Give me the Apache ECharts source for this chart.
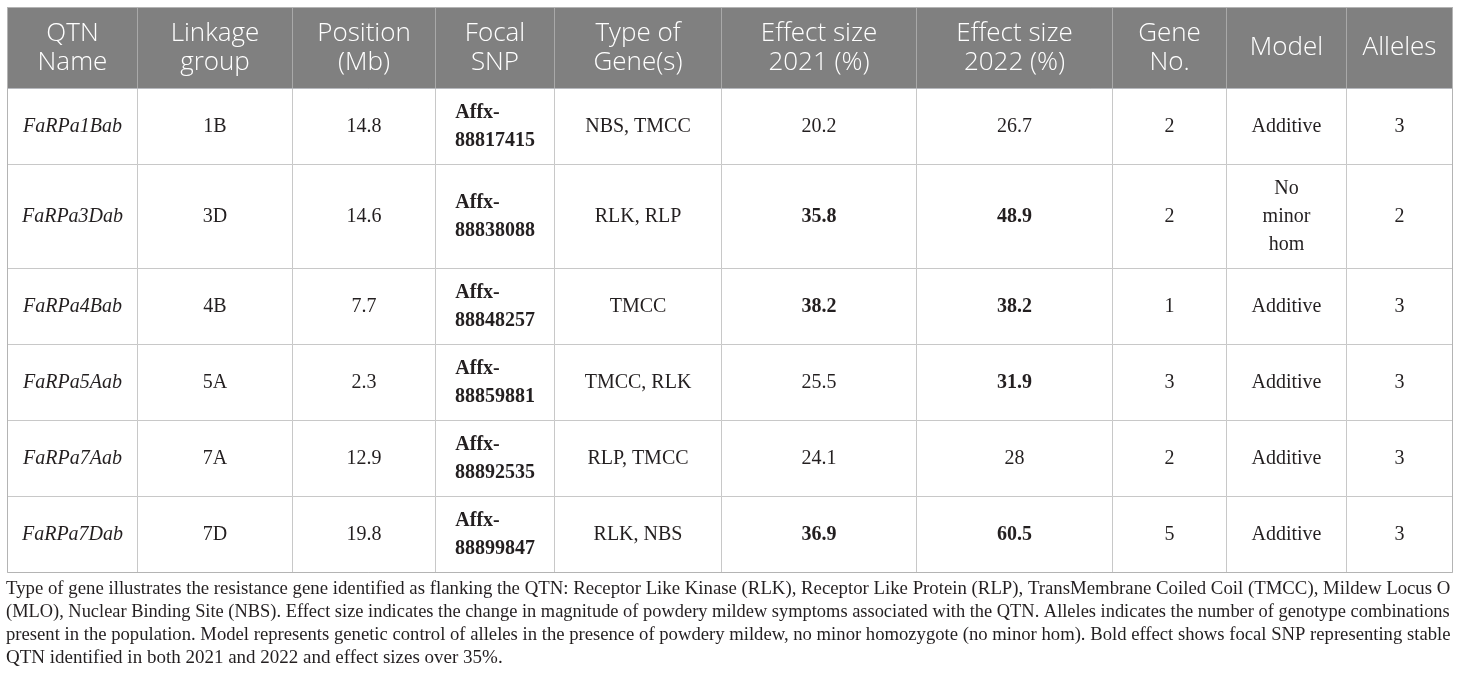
<!DOCTYPE html>
<html>
<head>
<meta charset="utf-8">
<title>QTN table</title>
<script src="https://cdn.jsdelivr.net/npm/echarts@6.0.0/dist/echarts.min.js"></script>
<style>
  html, body { margin: 0; padding: 0; background: #fff; }
  #main { width: 1460px; height: 682px; }
</style>
</head>
<body>
<div id="main"></div>
<script>
// 表头
const headers = ['QTN\nName', 'Linkage\ngroup', 'Position\n(Mb)', 'Focal\nSNP', 'Type of\nGene(s)',
  'Effect size\n2021 (%)', 'Effect size\n2022 (%)', 'Gene\nNo.', 'Model', 'Alleles'];

// 各列数据
const qtnNames = ['FaRPa1Bab', 'FaRPa3Dab', 'FaRPa4Bab', 'FaRPa5Aab', 'FaRPa7Aab', 'FaRPa7Dab'];
const linkageGroups = ['1B', '3D', '4B', '5A', '7A', '7D'];
const positions = [14.8, 14.6, 7.7, 2.3, 12.9, 19.8];
const focalSnps = ['Affx-88817415', 'Affx-88838088', 'Affx-88848257', 'Affx-88859881', 'Affx-88892535', 'Affx-88899847'];
const geneTypes = ['NBS, TMCC', 'RLK, RLP', 'TMCC', 'TMCC, RLK', 'RLP, TMCC', 'RLK, NBS'];
const effect2021 = [20.2, 35.8, 38.2, 25.5, 24.1, 36.9];
const effect2022 = [26.7, 48.9, 38.2, 31.9, 28, 60.5];
const geneNo = [2, 2, 1, 3, 2, 5];
const models = ['Additive', 'No\nminor\nhom', 'Additive', 'Additive', 'Additive', 'Additive'];
const alleles = [3, 2, 3, 3, 3, 3];
// 加粗标记
const bold2021 = [false, true, true, false, false, true];
const bold2022 = [false, true, true, true, false, true];

// 表注
const footnoteLines = [
  'Type of gene illustrates the resistance gene identified as flanking the QTN: Receptor Like Kinase (RLK), Receptor Like Protein (RLP), TransMembrane Coiled Coil (TMCC), Mildew Locus O',
  '(MLO), Nuclear Binding Site (NBS). Effect size indicates the change in magnitude of powdery mildew symptoms associated with the QTN. Alleles indicates the number of genotype combinations',
  'present in the population. Model represents genetic control of alleles in the presence of powdery mildew, no minor homozygote (no minor hom). Bold effect shows focal SNP representing stable',
  'QTN identified in both 2021 and 2022 and effect sizes over 35%.'
];

// 布局尺寸
const colWidths = [130, 155, 143, 119, 167, 195, 196, 114, 120, 106];
const headerHeight = 81;
const rowHeights = [76, 104, 76, 76, 76, 76];
const tableLeft = 7;
const tableWidth = colWidths.reduce((a, b) => a + b, 0);

const serif = 'Liberation Serif';
const bodySize = 20;
const noteSize = 19;
const columns = [qtnNames, linkageGroups, positions, focalSnps, geneTypes,
  effect2021, effect2022, geneNo, models, alleles];

// 文字宽度测量
const measureCtx = document.createElement('canvas').getContext('2d');
function textWidth(text, font) {
  measureCtx.font = font;
  return measureCtx.measureText(text).width;
}

// 用空格补齐第一行，使两行左端对齐
function padToWidth(head, tail, font) {
  const target = textWidth(tail, font);
  let s = head;
  while (textWidth(s + ' ', font) <= target + 1) s += ' ';
  while (textWidth(s + '\u200A', font) <= target + 0.5) s += '\u200A';
  return s;
}

function buildBody() {
  const cells = [];
  columns.forEach((col, ci) => {
    col.forEach((v, ri) => {
      let text = String(v);
      const label = { verticalAlign: 'middle', align: 'center' };
      if (ci === 0) label.fontStyle = 'italic';
      if (ci === 3) {
        const idx = text.indexOf('-');
        const head = text.slice(0, idx + 1);
        const tail = text.slice(idx + 1);
        const font = 'bold ' + bodySize + 'px "' + serif + '"';
        text = padToWidth(head, tail, font) + '\n' + tail;
        label.fontWeight = 'bold';
      }
      if (ci === 5 && bold2021[ri]) label.fontWeight = 'bold';
      if (ci === 6 && bold2022[ri]) label.fontWeight = 'bold';
      cells.push({ coord: [ci, ri], value: text, label });
    });
  });
  return cells;
}

// 表注逐行排列，过宽时缩小字号
function buildFootnote() {
  return footnoteLines.map((line, i) => {
    const w = textWidth(line, noteSize + 'px "' + serif + '"');
    const size = w > tableWidth ? noteSize * tableWidth / w : noteSize;
    return {
      text: line,
      left: 6,
      top: 580 + i * 23,
      padding: 0,
      textStyle: {
        fontFamily: serif,
        fontSize: size,
        fontWeight: 'normal',
        color: '#231f20'
      }
    };
  });
}

const chart = echarts.init(document.getElementById('main'));

const option = {
  backgroundColor: '#fff',
  animation: false,
  title: buildFootnote(),
  matrix: {
    left: tableLeft,
    top: 7,
    width: tableWidth,
    height: headerHeight + rowHeights.reduce((a, b) => a + b, 0),
    backgroundStyle: {
      color: '#fff',
      borderColor: '#b4b4b4',
      borderWidth: 1
    },
    x: {
      show: true,
      levelSize: headerHeight,
      data: headers.map((h, i) => ({ value: h, size: colWidths[i] })),
      label: {
        color: '#fff',
        fontFamily: 'Open Sans',
        fontWeight: 300,
        fontSize: 26,
        lineHeight: 29
      },
      itemStyle: {
        color: '#808080',
        borderColor: '#a9a9a9',
        borderWidth: 1
      }
    },
    y: {
      show: false,
      data: qtnNames.map((n, i) => ({ value: n, size: rowHeights[i] }))
    },
    dividerLineStyle: {
      color: '#c8c8c8',
      width: 1
    },
    body: {
      data: buildBody(),
      itemStyle: {
        color: '#fff',
        borderColor: '#c8c8c8',
        borderWidth: 1
      },
      label: {
        fontFamily: serif,
        fontSize: bodySize,
        lineHeight: 28,
        color: '#231f20',
        overflow: 'none'
      }
    }
  }
};

chart.setOption(option);
window.addEventListener('resize', () => chart.resize());
</script>
</body>
</html>
